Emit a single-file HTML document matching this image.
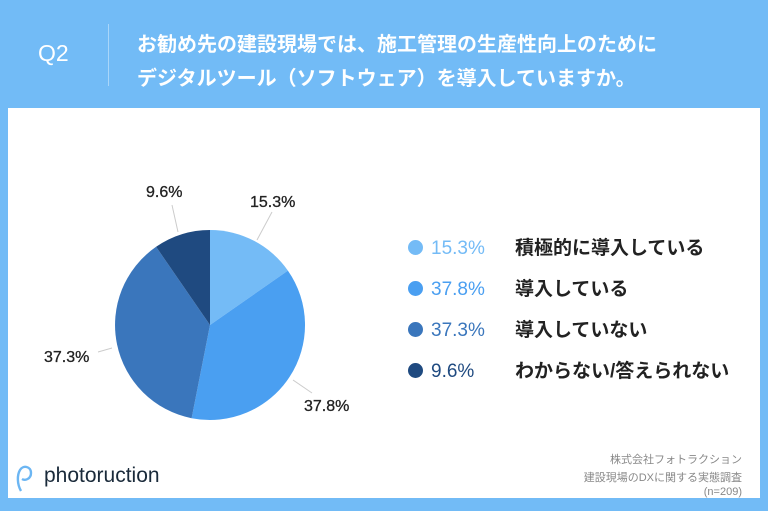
<!DOCTYPE html>
<html><head><meta charset="utf-8"><style>
body{margin:0;width:768px;height:511px;background:#72bbf6;position:relative;overflow:hidden;font-family:"Liberation Sans","Noto Sans CJK JP",sans-serif}
.panel{position:absolute;left:8px;top:108px;width:752px;height:390px;background:#fff}
.q{position:absolute;left:38px;top:40px;color:#fff;font-size:23px}
.sep{position:absolute;left:108px;top:24px;width:1px;height:62px;background:#a9d6fa}
.t{position:absolute;left:137px;color:#fff;font-size:20px;font-weight:bold;white-space:nowrap}
.lg{position:absolute;left:408px;font-size:19px;font-weight:bold;white-space:nowrap;color:#222}
.lg i{display:inline-block;width:15px;height:15px;border-radius:50%;vertical-align:-1px;margin-right:8px}
.lg b{display:inline-block;width:84px;font-weight:normal}
.src{position:absolute;right:26px;text-align:right;color:#888;font-size:11px}
</style></head><body>
<div class="q">Q2</div><div class="sep"></div>
<div class="t" style="top:28px">お勧め先の建設現場では、施工管理の生産性向上のために</div>
<div class="t" style="top:62px">デジタルツール（ソフトウェア）を導入していますか。</div>
<div class="panel"></div>
<svg style="position:absolute;left:0;top:0" width="768" height="511">
<path d="M210,325 L210,230 A95,95 0 0 1 287.9,270.6Z" fill="#74bbf6"/>
<path d="M210,325 L287.9,270.6 A95,95 0 0 1 191.6,418.2Z" fill="#4a9ff1"/>
<path d="M210,325 L191.6,418.2 A95,95 0 0 1 156.1,246.8Z" fill="#3a76bc"/>
<path d="M210,325 L156.1,246.8 A95,95 0 0 1 210,230Z" fill="#1f4a80"/>
<g stroke="#ccc" stroke-width="1"><line x1="257" y1="240" x2="272" y2="212"/><line x1="178" y1="232" x2="172" y2="205"/><line x1="112" y1="348" x2="98" y2="352"/><line x1="293" y1="380" x2="312" y2="393"/></g>
<g font-family="Liberation Sans" font-size="16" fill="#222" stroke="#222" stroke-width="0.3">
<text x="250" y="207">15.3%</text><text x="146" y="197">9.6%</text><text x="44" y="362">37.3%</text><text x="304" y="411">37.8%</text></g>
</svg>
<div class="lg" style="top:233px"><i style="background:#74bbf6"></i><b style="color:#74bbf6">15.3%</b>積極的に導入している</div>
<div class="lg" style="top:274px"><i style="background:#4a9ff1"></i><b style="color:#4a9ff1">37.8%</b>導入している</div>
<div class="lg" style="top:315px"><i style="background:#3a76bc"></i><b style="color:#3a76bc">37.3%</b>導入していない</div>
<div class="lg" style="top:356px"><i style="background:#1f4a80"></i><b style="color:#1f4a80">9.6%</b>わからない/答えられない</div>
<svg style="position:absolute;left:12px;top:462px" width="24" height="32"><path d="M9,29 C5,22 5,13 8,8 C11,3 19,4 19,11 C19,17 13,19 10,17" fill="none" stroke="#6cb6f3" stroke-width="2.4"/></svg>
<div style="position:absolute;left:44px;top:464px;font-size:21px;color:#1a2a3a">photoruction</div>
<div class="src" style="top:451px">株式会社フォトラクション</div>
<div class="src" style="top:469px">建設現場のDXに関する実態調査</div>
<div class="src" style="top:486px">(n=209)</div>
</body></html>
